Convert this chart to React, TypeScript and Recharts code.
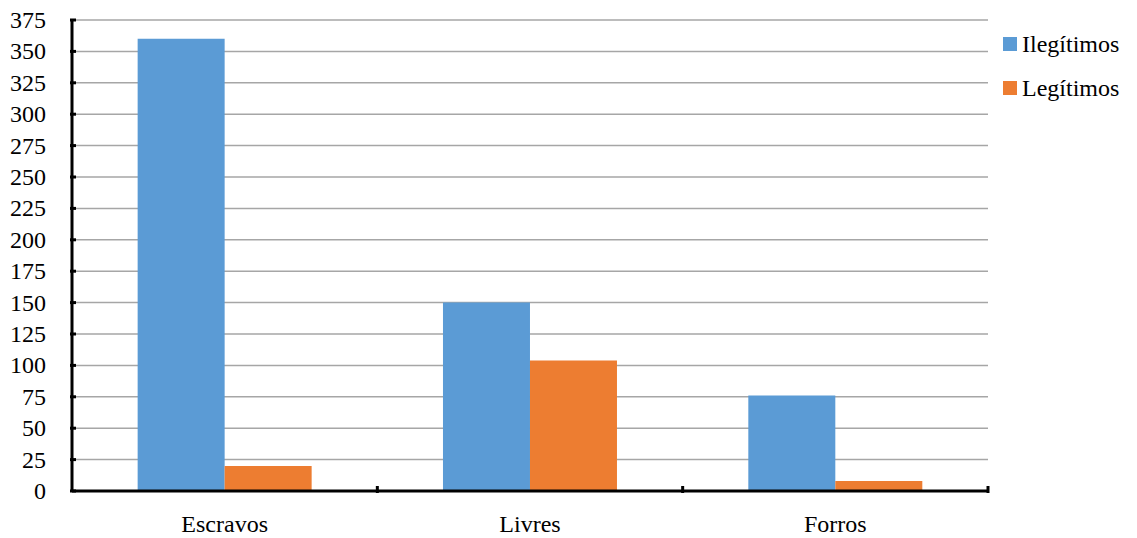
import React from "react";
import { BarChart, Bar, XAxis, YAxis, CartesianGrid } from "recharts";

const categories = ["Escravos", "Livres", "Forros"];
const ilegitimos = [360, 150, 76];
const legitimos = [20, 104, 8];
const yTicks = [0, 25, 50, 75, 100, 125, 150, 175, 200, 225, 250, 275, 300, 325, 350, 375];
const seriesNames = ["Ilegítimos", "Legítimos"];
const seriesColors = ["#5B9BD5", "#ED7D31"];

const data = categories.map((c, i) => ({ name: c, Ilegítimos: ilegitimos[i], Legítimos: legitimos[i] }));

const W = 1137;
const H = 538;
const M = { top: 20, right: 149, left: 0, bottom: 0 };
const Y_W = 72;
const X_H = 47;
const FONT = '"Liberation Serif", "DejaVu Serif", "Times New Roman", Times, serif';
const plotW = W - M.left - M.right - Y_W;
const halfBand = plotW / categories.length / 2;

const YTick = (props: any) => {
  const { x, y, payload } = props;
  return (
    <g>
      <line x1={x} y1={y} x2={x + 6} y2={y} stroke="#000" strokeWidth={3} />
      <text x={x - 24} y={y} textAnchor="end" dominantBaseline="central" fontFamily={FONT} fontSize={24} fill="#000">
        {payload.value}
      </text>
    </g>
  );
};

const XTick = (props: any) => {
  const { x, y, payload } = props;
  return (
    <g>
      <line x1={x + halfBand} y1={y} x2={x + halfBand} y2={y - 7} stroke="#000" strokeWidth={3} />
      <text x={x} y={y + 31} textAnchor="middle" dominantBaseline="central" fontFamily={FONT} fontSize={24} fill="#000">
        {payload.value}
      </text>
    </g>
  );
};

export default function App() {
  return (
    <div style={{ position: "absolute", left: 0, top: 0, width: W, height: H, background: "#fff", fontFamily: FONT }}>
      <BarChart width={W} height={H} data={data} margin={M} barCategoryGap="21.5%" barGap={0} style={{ fontFamily: FONT }}>
        <CartesianGrid vertical={false} stroke="#a6a6a6" strokeWidth={1.5} />
        <XAxis
          dataKey="name"
          height={X_H}
          axisLine={{ stroke: "#000", strokeWidth: 3 }}
          tickLine={false}
          tickSize={0}
          tick={<XTick />}
          interval={0}
        />
        <YAxis
          width={Y_W}
          domain={[0, 375]}
          ticks={yTicks}
          interval={0}
          axisLine={{ stroke: "#000", strokeWidth: 3 }}
          tickLine={false}
          tickSize={0}
          tick={<YTick />}
        />
        {seriesNames.map((s, i) => (
          <Bar key={s} dataKey={s} fill={seriesColors[i]} isAnimationActive={false} />
        ))}
      </BarChart>
      <div style={{ position: "absolute", left: 1003, top: 22, fontFamily: FONT, fontSize: 24, color: "#000" }}>
        {seriesNames.map((k, i) => (
          <div key={k} style={{ display: "flex", alignItems: "center", height: 44 }}>
            <span style={{ display: "inline-block", width: 14, height: 14, background: seriesColors[i], marginRight: 5 }} />
            <span>{k}</span>
          </div>
        ))}
      </div>
    </div>
  );
}
